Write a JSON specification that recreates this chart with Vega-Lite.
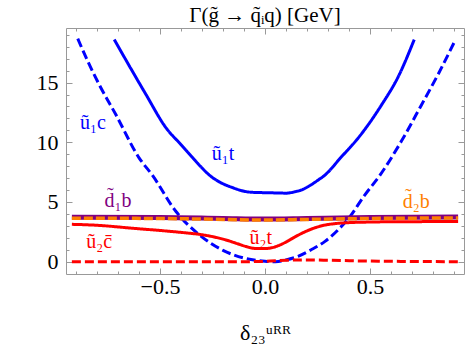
{
  "$schema": "https://vega.github.io/schema/vega-lite/v6.json",
  "width": 398,
  "height": 246,
  "autosize": {"type": "none"},
  "padding": {"left": 66, "top": 28, "right": 2, "bottom": 78},
  "background": "white",
  "config": {"view": {"stroke": "#999999", "strokeWidth": 1}, "font": "Liberation Serif"},
  "title": {"text": "Γ(g̃ → q̃ᵢq) [GeV]", "fontSize": 21, "fontWeight": "normal", "font": "Liberation Serif", "offset": -2, "color": "black"},
  "datasets": {
    "curves": [
      {"s": "u1c", "x": -0.892, "y": 18.68}, {"s": "u1c", "x": -0.85, "y": 17.0}, {"s": "u1c", "x": -0.789, "y": 14.8}, {"s": "u1c", "x": -0.71, "y": 12.3}, {"s": "u1c", "x": -0.6, "y": 8.7}, {"s": "u1c", "x": -0.535, "y": 7.2}, {"s": "u1c", "x": -0.424, "y": 4.2}, {"s": "u1c", "x": -0.313, "y": 2.25}, {"s": "u1c", "x": -0.2, "y": 0.95}, {"s": "u1c", "x": -0.1, "y": 0.3}, {"s": "u1c", "x": 0.0, "y": 0.04}, {"s": "u1c", "x": 0.05, "y": 0.0}, {"s": "u1c", "x": 0.1, "y": 0.15}, {"s": "u1c", "x": 0.157, "y": 0.45}, {"s": "u1c", "x": 0.22, "y": 1.0}, {"s": "u1c", "x": 0.286, "y": 1.7}, {"s": "u1c", "x": 0.35, "y": 2.7}, {"s": "u1c", "x": 0.397, "y": 3.6}, {"s": "u1c", "x": 0.476, "y": 5.6}, {"s": "u1c", "x": 0.548, "y": 7.25}, {"s": "u1c", "x": 0.65, "y": 10.1}, {"s": "u1c", "x": 0.746, "y": 13.15}, {"s": "u1c", "x": 0.825, "y": 15.7}, {"s": "u1c", "x": 0.905, "y": 18.5},
      {"s": "u1t", "x": -0.718, "y": 18.6}, {"s": "u1t", "x": -0.64, "y": 16.2}, {"s": "u1t", "x": -0.567, "y": 14.0}, {"s": "u1t", "x": -0.471, "y": 11.2}, {"s": "u1t", "x": -0.4, "y": 9.8}, {"s": "u1t", "x": -0.344, "y": 8.7}, {"s": "u1t", "x": -0.3, "y": 7.85}, {"s": "u1t", "x": -0.265, "y": 7.25}, {"s": "u1t", "x": -0.214, "y": 6.65}, {"s": "u1t", "x": -0.154, "y": 6.2}, {"s": "u1t", "x": -0.1, "y": 5.9}, {"s": "u1t", "x": -0.05, "y": 5.8}, {"s": "u1t", "x": 0.0, "y": 5.78}, {"s": "u1t", "x": 0.05, "y": 5.76}, {"s": "u1t", "x": 0.1, "y": 5.74}, {"s": "u1t", "x": 0.143, "y": 5.86}, {"s": "u1t", "x": 0.18, "y": 6.05}, {"s": "u1t", "x": 0.205, "y": 6.28}, {"s": "u1t", "x": 0.25, "y": 6.8}, {"s": "u1t", "x": 0.286, "y": 7.26}, {"s": "u1t", "x": 0.36, "y": 8.7}, {"s": "u1t", "x": 0.444, "y": 10.36}, {"s": "u1t", "x": 0.556, "y": 13.15}, {"s": "u1t", "x": 0.635, "y": 15.5}, {"s": "u1t", "x": 0.711, "y": 18.6},
      {"s": "u2t", "x": -0.92, "y": 3.13}, {"s": "u2t", "x": -0.8, "y": 3.05}, {"s": "u2t", "x": -0.63, "y": 2.8}, {"s": "u2t", "x": -0.471, "y": 2.57}, {"s": "u2t", "x": -0.38, "y": 2.42}, {"s": "u2t", "x": -0.313, "y": 2.29}, {"s": "u2t", "x": -0.25, "y": 2.1}, {"s": "u2t", "x": -0.186, "y": 1.82}, {"s": "u2t", "x": -0.13, "y": 1.5}, {"s": "u2t", "x": -0.09, "y": 1.27}, {"s": "u2t", "x": -0.04, "y": 1.1}, {"s": "u2t", "x": 0.0, "y": 1.1}, {"s": "u2t", "x": 0.04, "y": 1.2}, {"s": "u2t", "x": 0.095, "y": 1.6}, {"s": "u2t", "x": 0.14, "y": 2.05}, {"s": "u2t", "x": 0.19, "y": 2.5}, {"s": "u2t", "x": 0.24, "y": 2.85}, {"s": "u2t", "x": 0.286, "y": 3.07}, {"s": "u2t", "x": 0.34, "y": 3.2}, {"s": "u2t", "x": 0.397, "y": 3.27}, {"s": "u2t", "x": 0.5, "y": 3.32}, {"s": "u2t", "x": 0.635, "y": 3.35}, {"s": "u2t", "x": 0.92, "y": 3.36},
      {"s": "u2c", "x": -0.92, "y": 0.0}, {"s": "u2c", "x": -0.4, "y": 0.0}, {"s": "u2c", "x": -0.1, "y": 0.0}, {"s": "u2c", "x": 0.0, "y": 0.03}, {"s": "u2c", "x": 0.1, "y": 0.12}, {"s": "u2c", "x": 0.2, "y": 0.15}, {"s": "u2c", "x": 0.3, "y": 0.12}, {"s": "u2c", "x": 0.5, "y": 0.05}, {"s": "u2c", "x": 0.7, "y": 0.02}, {"s": "u2c", "x": 0.92, "y": 0.0},
      {"s": "d1b", "x": -0.92, "y": 3.72}, {"s": "d1b", "x": -0.5, "y": 3.7}, {"s": "d1b", "x": -0.2, "y": 3.62}, {"s": "d1b", "x": 0.0, "y": 3.57}, {"s": "d1b", "x": 0.2, "y": 3.62}, {"s": "d1b", "x": 0.5, "y": 3.7}, {"s": "d1b", "x": 0.92, "y": 3.74},
      {"s": "d2b", "x": -0.92, "y": 3.64}, {"s": "d2b", "x": -0.5, "y": 3.62}, {"s": "d2b", "x": -0.2, "y": 3.54}, {"s": "d2b", "x": 0.0, "y": 3.49}, {"s": "d2b", "x": 0.2, "y": 3.54}, {"s": "d2b", "x": 0.5, "y": 3.62}, {"s": "d2b", "x": 0.92, "y": 3.66}
    ],
    "labels": [
      {"s": "u1c", "text": "ũ₁c", "x": -0.82, "y": 11.6},
      {"s": "u1t", "text": "ũ₁t", "x": -0.2, "y": 9.0},
      {"s": "d1b", "text": "d̃₁b", "x": -0.7, "y": 5.1},
      {"s": "d2b", "text": "d̃₂b", "x": 0.72, "y": 5.0},
      {"s": "u2t", "text": "ũ₂t", "x": -0.02, "y": 1.95},
      {"s": "u2c", "text": "ũ₂c̄", "x": -0.79, "y": 1.65}
    ]
  },
  "layer": [
    {
      "data": {"name": "curves"},
      "transform": [{"filter": "datum.s === 'u1c' || datum.s === 'u1t' || datum.s === 'u2t' || datum.s === 'u2c'"}],
      "mark": {"type": "line", "strokeWidth": 3, "strokeCap": "butt", "interpolate": "monotone"},
      "encoding": {
        "x": {"field": "x", "type": "quantitative",
          "scale": {"domain": [-0.948, 0.948], "nice": false, "zero": false},
          "axis": {"orient": "bottom", "values": [-0.9, -0.8, -0.7, -0.6, -0.5, -0.4, -0.3, -0.2, -0.1, 0, 0.1, 0.2, 0.3, 0.4, 0.5, 0.6, 0.7, 0.8, 0.9],
            "labelExpr": "abs(datum.value*2-round(datum.value*2))<0.001 ? format(datum.value,'.1f') : ''",
            "tickSize": {"condition": {"test": "abs(datum.value*2-round(datum.value*2))<0.001", "value": -6}, "value": -3},
            "tickColor": "#999999", "domain": false, "grid": false, "labelFontSize": 22, "labelFont": "Liberation Serif", "labelColor": "black", "labelPadding": 8, "labelFlush": false, "labelOverlap": false,
            "title": "δ₂₃ᵘᴿᴿ", "titleFontSize": 22, "titleFont": "Liberation Serif", "titleFontWeight": "normal", "titleColor": "black", "titlePadding": 22}},
        "y": {"field": "y", "type": "quantitative",
          "scale": {"domain": [-1.03, 19.57], "nice": false, "zero": false},
          "axis": {"orient": "left", "values": [0, 1, 2, 3, 4, 5, 6, 7, 8, 9, 10, 11, 12, 13, 14, 15, 16, 17, 18, 19],
            "labelExpr": "datum.value % 5 === 0 ? datum.label : ''",
            "tickSize": {"condition": {"test": "datum.value % 5 === 0", "value": -6}, "value": -3},
            "tickColor": "#999999", "domain": false, "grid": false, "labelFontSize": 22, "labelFont": "Liberation Serif", "labelColor": "black", "labelPadding": 14, "labelFlush": false, "labelOverlap": false, "title": null}},
        "color": {"field": "s", "type": "nominal", "legend": null,
          "scale": {"domain": ["u1c", "u1t", "d1b", "d2b", "u2t", "u2c"], "range": ["#0000ff", "#0000ff", "#800080", "#ff8000", "#ff0000", "#ff0000"]}},
        "strokeDash": {"field": "s", "type": "nominal", "legend": null,
          "scale": {"domain": ["u1c", "u1t", "u2t", "u2c"], "range": [[9, 4], [1, 0], [1, 0], [9, 4]]}}
      }
    },
    {
      "data": {"name": "curves"},
      "transform": [{"filter": "datum.s === 'd1b'"}],
      "mark": {"type": "line", "strokeWidth": 5, "interpolate": "monotone"},
      "encoding": {
        "x": {"field": "x", "type": "quantitative",
          "axis": {"orient": "top", "values": [-0.9, -0.8, -0.7, -0.6, -0.5, -0.4, -0.3, -0.2, -0.1, 0, 0.1, 0.2, 0.3, 0.4, 0.5, 0.6, 0.7, 0.8, 0.9], "labels": false,
            "tickSize": {"condition": {"test": "abs(datum.value*2-round(datum.value*2))<0.001", "value": -6}, "value": -3},
            "tickColor": "#999999", "domain": false, "grid": false, "title": null}},
        "y": {"field": "y", "type": "quantitative",
          "axis": {"orient": "right", "values": [0, 1, 2, 3, 4, 5, 6, 7, 8, 9, 10, 11, 12, 13, 14, 15, 16, 17, 18, 19], "labels": false,
            "tickSize": {"condition": {"test": "datum.value % 5 === 0", "value": -6}, "value": -3},
            "tickColor": "#999999", "domain": false, "grid": false, "title": null}},
        "color": {"field": "s", "type": "nominal", "legend": null,
          "scale": {"domain": ["u1c", "u1t", "d1b", "d2b", "u2t", "u2c"], "range": ["#0000ff", "#0000ff", "#800080", "#ff8000", "#ff0000", "#ff0000"]}}
      }
    },
    {
      "data": {"name": "curves"},
      "transform": [{"filter": "datum.s === 'd2b'"}],
      "mark": {"type": "line", "strokeWidth": 3.5, "strokeDash": [9, 3], "interpolate": "monotone"},
      "encoding": {
        "x": {"field": "x", "type": "quantitative", "axis": null},
        "y": {"field": "y", "type": "quantitative", "axis": null},
        "color": {"field": "s", "type": "nominal", "legend": null,
          "scale": {"domain": ["u1c", "u1t", "d1b", "d2b", "u2t", "u2c"], "range": ["#0000ff", "#0000ff", "#800080", "#ff8000", "#ff0000", "#ff0000"]}}
      }
    },
    {
      "data": {"name": "labels"},
      "mark": {"type": "text", "fontSize": 20, "font": "Liberation Serif", "align": "center", "baseline": "middle"},
      "encoding": {
        "x": {"field": "x", "type": "quantitative", "axis": null},
        "y": {"field": "y", "type": "quantitative", "axis": null},
        "text": {"field": "text"},
        "color": {"field": "s", "type": "nominal", "legend": null,
          "scale": {"domain": ["u1c", "u1t", "d1b", "d2b", "u2t", "u2c"], "range": ["#0000ff", "#0000ff", "#800080", "#ff8000", "#ff0000", "#ff0000"]}}
      }
    }
  ]
}
